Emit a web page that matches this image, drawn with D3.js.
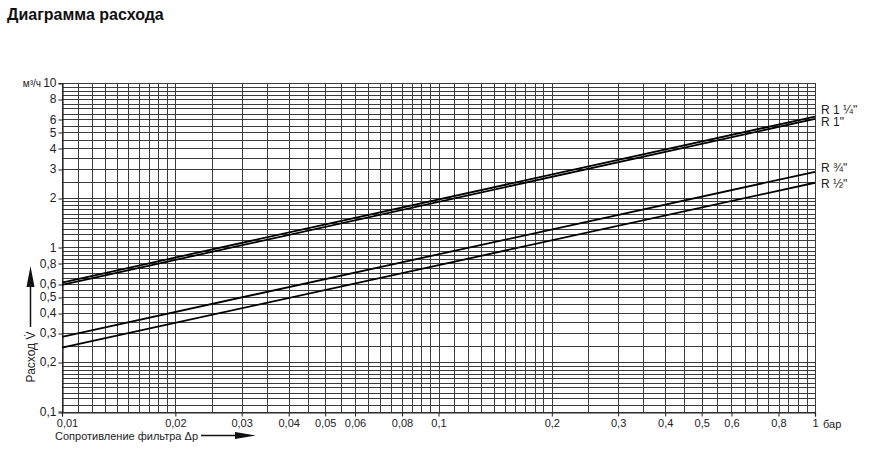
<!DOCTYPE html>
<html><head><meta charset="utf-8">
<script src="https://cdn.jsdelivr.net/npm/d3@7"></script>
<style>
html,body{margin:0;padding:0;background:#fff;}
svg{display:block;font-family:"Liberation Sans",Arial,sans-serif;}
</style></head>
<body>
<svg id="chart" width="870" height="452"></svg>
<script>
// ---- data ----
const pressureEnds = [0.01, 1];                 // Δp, бар
const seriesNames = ['R 1 \u00BC"', 'R 1"', 'R \u00BE"', 'R \u00BD"'];
const qR114 = [0.61, 6.25];
const qR1   = [0.59, 6.05];
const qR34  = [0.285, 2.88];
const qR12  = [0.245, 2.47];
const seriesValues = [qR114, qR1, qR34, qR12];
const labelOffsets = [-6, 4, -3, 2];
const xTickValues = [0.01,0.02,0.03,0.04,0.05,0.06,0.08,0.1,0.2,0.3,0.4,0.5,0.6,0.8,1];
const yTickValues = [0.1,0.2,0.3,0.4,0.5,0.6,0.8,1,2,3,4,5,6,8,10];

const svg = d3.select('#chart');
const x = d3.scaleLog().domain([0.01, 1]).range([62, 815]);
const y = d3.scaleLog().domain([0.1, 10]).range([411.5, 83]);
const fmt = v => String(v).replace('.', ',');
const px = v => Math.round(v) + 0.5;

// grid
function gridVals(base){
  const a = [];
  const push = (s,e,st)=>{ for(let i=0;i<=Math.round((e-s)/st);i++) a.push(+(s+i*st).toFixed(6)); };
  push(base, 2*base, base/10);
  push(2*base, 10*base, base/2);
  return a;
}
const xGrid = Array.from(new Set([...gridVals(0.01), ...gridVals(0.1)]));
const yGrid = Array.from(new Set([...gridVals(0.1), ...gridVals(1)]));

const g = svg.append('g').attr('shape-rendering','crispEdges');
g.selectAll('line.vx').data(xGrid).join('line')
  .attr('x1', d=>px(x(d))).attr('x2', d=>px(x(d))).attr('y1', px(y(10))).attr('y2', px(y(0.1)))
  .attr('stroke', '#3c3c3c').attr('stroke-width', 1);
g.selectAll('line.hy').data(yGrid).join('line')
  .attr('y1', d=>px(y(d))).attr('y2', d=>px(y(d))).attr('x1', px(x(0.01))).attr('x2', px(x(1)))
  .attr('stroke', '#3c3c3c').attr('stroke-width', 1);

// axes
const yAxis = d3.axisLeft(y).tickValues(yTickValues).tickFormat(fmt).tickSize(4).tickPadding(2);
const ya = svg.append('g').attr('transform', `translate(${px(x(0.01))},0)`).call(yAxis);
ya.select('.domain').attr('stroke', '#222').attr('stroke-width', 1.2);
ya.selectAll('.tick line').attr('stroke','#222').attr('transform', d=>`translate(0,${px(y(d))-y(d)})`);
ya.selectAll('text').attr('font-size', 12).attr('fill', '#222').attr('font-family','"Liberation Sans",Arial,sans-serif');

const xAxis = d3.axisBottom(x).tickValues(xTickValues).tickFormat(fmt).tickSize(4).tickPadding(3);
const xa = svg.append('g').attr('transform', `translate(0,${px(y(0.1))})`).call(xAxis);
xa.select('.domain').attr('stroke', '#222').attr('stroke-width', 1.2);
xa.selectAll('.tick line').attr('stroke','#222');
xa.selectAll('text').attr('font-size', 11).attr('fill', '#222').attr('font-family','"Liberation Sans",Arial,sans-serif');
xa.selectAll('.tick').filter(d=>d===0.01).select('text').attr('dx', 5);

// series lines
const line = d3.line().x(d=>x(d[0])).y(d=>y(d[1]));
seriesValues.forEach((vals,i)=>{
  const pts = pressureEnds.map((p,j)=>[p, vals[j]]);
  svg.append('path').datum(pts).attr('d', line)
    .attr('fill','none').attr('stroke','#000').attr('stroke-width',1.8);
  svg.append('text').attr('x', x(1)+6).attr('y', y(vals[1]) + labelOffsets[i])
    .attr('dominant-baseline','middle').attr('font-size', 12).attr('fill','#222')
    .text(seriesNames[i]);
});

// titles/units
svg.append('text').attr('x', 7).attr('y', 20).attr('font-size', 16).attr('font-weight', 'bold')
  .attr('fill','#111').text('Диаграмма расхода');
svg.append('text').attr('x', 41).attr('y', y(10)+4).attr('text-anchor','end')
  .attr('font-size', 10).attr('fill','#222').text('м³/ч');
svg.append('text').attr('x', x(1)+8).attr('y', y(0.1)+16)
  .attr('font-size', 11).attr('fill','#222').text('бар');

// x title with arrow
svg.append('text').attr('x', 55).attr('y', 440).attr('font-size', 11).attr('fill','#222')
  .text('Сопротивление фильтра Δp');
svg.append('line').attr('x1', 201).attr('x2', 238).attr('y1', 435.5).attr('y2', 435.5)
  .attr('stroke','#111').attr('stroke-width',1.5);
svg.append('path').attr('d','M235,432 L256,435.5 L235,439 Z').attr('fill','#111');

// y title with arrow
svg.append('text').attr('transform','translate(35,357) rotate(-90)').attr('text-anchor','middle')
  .attr('font-size', 12).attr('fill','#222').text('Расход V\u0307');
svg.append('line').attr('x1', 30.5).attr('x2', 30.5).attr('y1', 327).attr('y2', 284)
  .attr('stroke','#111').attr('stroke-width',1.5);
svg.append('path').attr('d','M26.5,287 L30.5,266 L34.5,287 Z').attr('fill','#111');
</script>
</body></html>
